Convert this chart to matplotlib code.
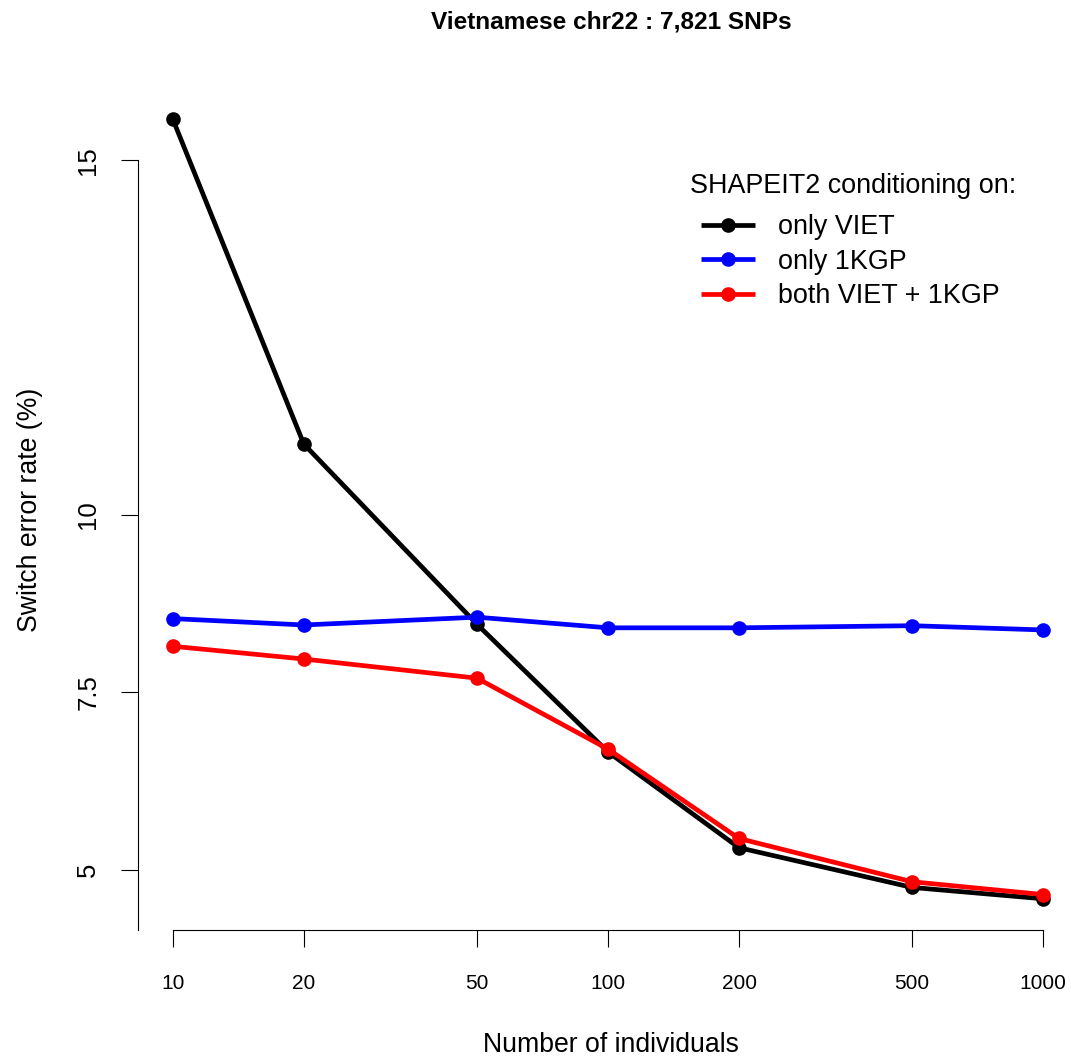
import matplotlib
matplotlib.use('Agg')
import matplotlib.pyplot as plt
from matplotlib.ticker import FixedLocator, NullLocator, FixedFormatter

plt.rcParams['font.family'] = ['Liberation Sans', 'DejaVu Sans']

n_individuals = [10, 20, 50, 100, 200, 500, 1000]
only_viet = [15.58, 11.00, 8.46, 6.66, 5.31, 4.75, 4.59]
only_1kgp = [8.54, 8.45, 8.56, 8.41, 8.41, 8.44, 8.38]
both_viet_1kgp = [8.15, 7.97, 7.70, 6.70, 5.44, 4.83, 4.65]
series_labels = ['only VIET', 'only 1KGP', 'both VIET + 1KGP']
series_colors = ['black', 'blue', 'red']
x_ticks = [10, 20, 50, 100, 200, 500, 1000]
x_tick_labels = ['10', '20', '50', '100', '200', '500', '1000']
y_ticks = [5, 7.5, 10, 15]
y_tick_labels = ['5', '7.5', '10', '15']

W, H = 1071, 1059
fig = plt.figure(figsize=(W / 100, H / 100), dpi=100)
ax = fig.add_axes([138 / W, 1 - 930 / H, (1078 - 138) / W, (930 - 88) / H])

for vals, lab, col in zip([only_viet, only_1kgp, both_viet_1kgp], series_labels, series_colors):
    ax.plot(n_individuals, vals, color=col, lw=3.4, marker='o', markersize=9.5,
            label=lab, solid_capstyle='butt')

ax.set_xscale('log')
ax.set_xlim(10 ** 0.92, 10 ** 3.08)
ax.set_ylim(4.15, 16.02)

ax.xaxis.set_major_locator(FixedLocator(x_ticks))
ax.xaxis.set_major_formatter(FixedFormatter(x_tick_labels))
ax.xaxis.set_minor_locator(NullLocator())
ax.yaxis.set_major_locator(FixedLocator(y_ticks))
ax.yaxis.set_major_formatter(FixedFormatter(y_tick_labels))

for s in ['top', 'right']:
    ax.spines[s].set_visible(False)
ax.spines['bottom'].set_bounds(10, 1000)
ax.spines['left'].set_bounds(4.15, 15)
for s in ['bottom', 'left']:
    ax.spines[s].set_linewidth(0.8)

ax.tick_params(axis='both', direction='out', length=12.2, width=0.8)
ax.tick_params(axis='x', pad=19.5, labelsize=15)
ax.tick_params(axis='y', pad=15, labelsize=18.5)
for t in ax.get_yticklabels():
    t.set_rotation(90)
    t.set_va('center')

fig.text(611 / W, 1 - 22 / H, 'Vietnamese chr22 : 7,821 SNPs', ha='center', va='center',
         fontsize=17.6, fontweight='bold')
fig.text(611 / W, 1 - 1045 / H, 'Number of individuals', ha='center', va='center', fontsize=19.2)
fig.text(30 / W, 1 - 510 / H, 'Switch error rate (%)', ha='center', va='center',
         rotation=90, fontsize=19.2)

fig.text(690 / W, 1 - 186 / H, 'SHAPEIT2 conditioning on:', ha='left', va='center',
         fontsize=19.4)
leg = ax.legend(loc='upper left', bbox_to_anchor=(701 / W, 1 - 214 / H),
                bbox_transform=fig.transFigure, frameon=False, fontsize=19.4,
                handlelength=2.0, handletextpad=0.85,
                labelspacing=0.32, borderpad=0, borderaxespad=0)

fig.savefig('out.png', dpi=100)
